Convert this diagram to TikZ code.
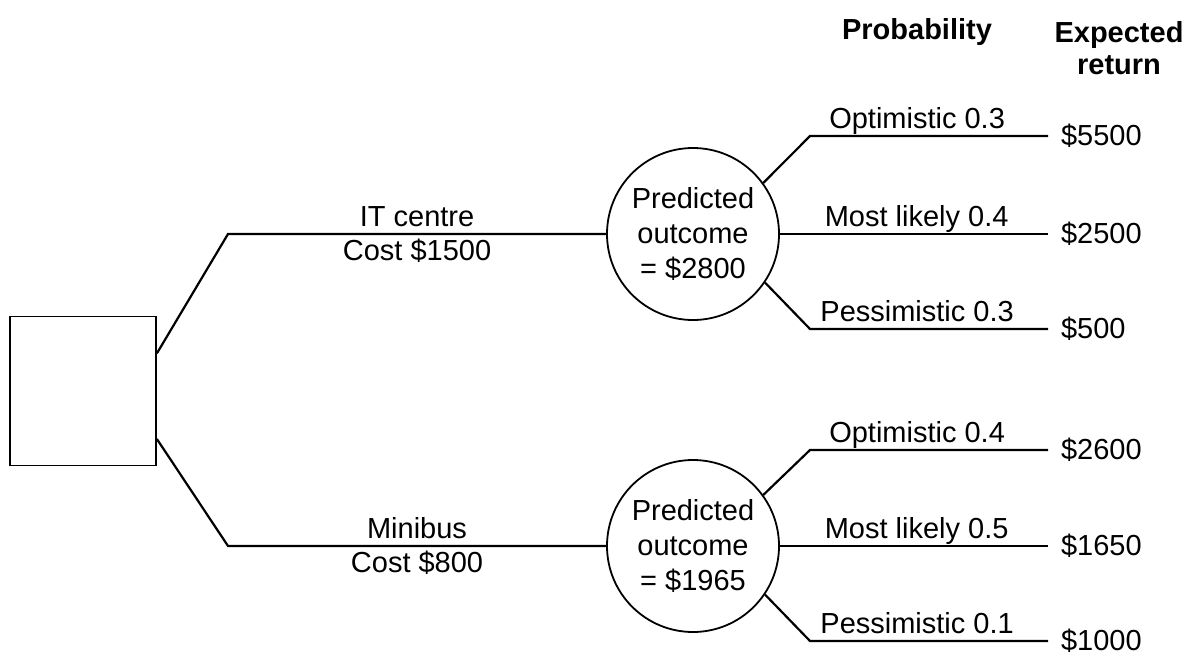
\documentclass[tikz,border=0pt]{standalone}
\usepackage{fontspec}
\setmainfont{Liberation Sans}

\begin{document}
\begin{tikzpicture}[x=1pt, y=-1pt, line width=2.2pt,
  every node/.style={font=\fontsize{29}{35}\selectfont},
  choice/.style={draw, line width=1.8pt, minimum width=146pt, minimum height=149pt, inner sep=0pt},
  chance/.style={draw, circle, line width=1.8pt, minimum size=172pt, inner sep=0pt, align=center},
  payoff/.style={anchor=west, inner xsep=12pt, inner ysep=0pt},
  lbl/.style={inner sep=4pt, text depth=0.22em}]
  \useasboundingbox (0,0) rectangle (1194,653);
  % headings
  \node (probhead) at (917,32) {\textbf{Probability}};
  \node[align=center] (rethead) at (1119,48) {\textbf{Expected}\\[-3pt]\textbf{return}};
  % decision and chance nodes
  \node[choice] (dec) at (83,391) {};
  \coordinate (itbend) at (228,234);
  \coordinate (busbend) at (228,546);
  \node[chance] (itc) at (693,234) {Predicted\\outcome\\= \$2800};
  \node[chance] (busc) at (693,546) {Predicted\\outcome\\= \$1965};
  \draw (dec.27) -- (itbend) -- node[lbl,above] {IT centre} node[lbl,below] {Cost \$1500} (itc.west);
  \draw (dec.-33) -- (busbend) -- node[lbl,above] {Minibus} node[lbl,below] {Cost \$800} (busc.west);
  % returns
  \node[payoff] (it1) at (1048,136) {\$5500};
  \node[payoff] (it2) at (1048,234) {\$2500};
  \node[payoff] (it3) at (1048,329) {\$500};
  \node[payoff] (bus1) at (1048,450) {\$2600};
  \node[payoff] (bus2) at (1048,546) {\$1650};
  \node[payoff] (bus3) at (1048,641) {\$1000};
  % outcome branches
  \draw (itc.36) -- ([xshift=-238pt]it1.west) -- node[lbl,above,pos=.45] {Optimistic 0.3} (it1.west);
  \draw (itc.east) -- node[lbl,above,pos=.51] {Most likely 0.4} (it2.west);
  \draw (itc.-34) -- ([xshift=-238pt]it3.west) -- node[lbl,above,pos=.45] {Pessimistic 0.3} (it3.west);
  \draw (busc.36) -- ([xshift=-238pt]bus1.west) -- node[lbl,above,pos=.45] {Optimistic 0.4} (bus1.west);
  \draw (busc.east) -- node[lbl,above,pos=.51] {Most likely 0.5} (bus2.west);
  \draw (busc.-34) -- ([xshift=-238pt]bus3.west) -- node[lbl,above,pos=.45] {Pessimistic 0.1} (bus3.west);
\end{tikzpicture}
\end{document}
